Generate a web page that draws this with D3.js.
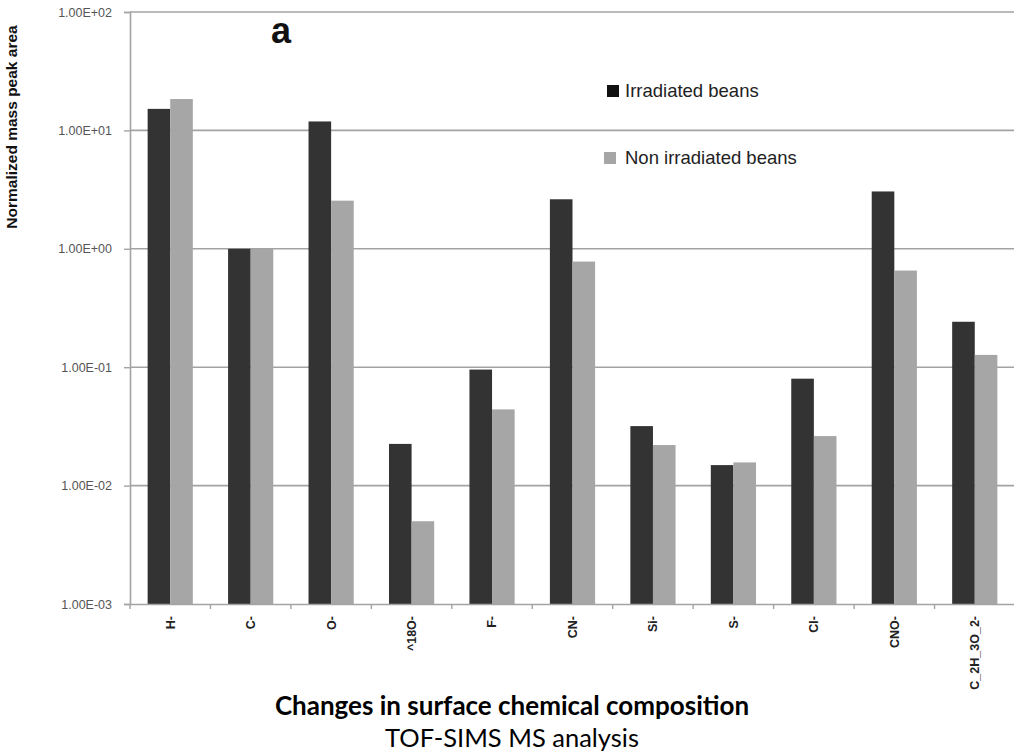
<!DOCTYPE html>
<html>
<head>
<meta charset="utf-8">
<script src="https://cdn.jsdelivr.net/npm/d3@7"></script>
<style>
  html, body { margin: 0; padding: 0; background: #ffffff; }
  svg { display: block; }
</style>
</head>
<body>
<svg id="chart" width="1014" height="754"></svg>
<script>
// Ions measured by TOF-SIMS (negative mode)
const ions = ["H-", "C-", "O-", "^18O-", "F-", "CN-", "Si-", "S-", "Cl-", "CNO-", "C_2H_3O_2-"];
// Normalized mass peak area per ion
const irradiated    = [15.2, 1.0, 11.9, 0.0225, 0.0955, 2.62, 0.0318, 0.0149, 0.080, 3.05, 0.242];
const nonIrradiated = [18.4, 1.0, 2.55, 0.0050, 0.0440, 0.78, 0.0220, 0.0157, 0.0262, 0.655, 0.127];
const seriesNames = ["Irradiated beans", "Non irradiated beans"];
const seriesColors = ["#333333", "#a6a6a6"];
const yTicks = [1e-3, 1e-2, 1e-1, 1e0, 1e1, 1e2];
const yTickLabels = ["1.00E-03", "1.00E-02", "1.00E-01", "1.00E+00", "1.00E+01", "1.00E+02"];

const svg = d3.select("#chart");
const plot = { left: 130, right: 1015, top: 12, bottom: 604 };

const x = d3.scaleBand().domain(ions).range([plot.left, plot.right]).padding(0);
const y = d3.scaleLog().domain([1e-3, 1e2]).range([plot.bottom, plot.top]);
const barW = 22.6;
const sub = d3.scaleOrdinal().domain([0, 1]).range([-barW, 0]);

// gridlines
svg.append("g")
  .selectAll("line")
  .data(yTicks.slice(1))
  .join("line")
  .attr("x1", plot.left).attr("x2", 1014)
  .attr("y1", d => y(d)).attr("y2", d => y(d))
  .attr("stroke", "#a3a3a3").attr("stroke-width", 1.6);

// bars
const rows = ions.map((ion, i) => ({ ion, vals: [irradiated[i], nonIrradiated[i]] }));
const groups = svg.append("g").selectAll("g")
  .data(rows).join("g")
  .attr("transform", d => `translate(${x(d.ion) + x.bandwidth() / 2},0)`);
groups.selectAll("rect")
  .data(d => d.vals.map((v, k) => ({ v, k })))
  .join("rect")
  .attr("x", d => sub(d.k))
  .attr("width", barW)
  .attr("y", d => y(d.v))
  .attr("height", d => plot.bottom - y(d.v))
  .attr("fill", d => seriesColors[d.k]);

// y axis
const yAxis = d3.axisLeft(y)
  .tickValues(yTicks)
  .tickFormat((d, i) => yTickLabels[i])
  .tickSizeOuter(0)
  .tickSize(6)
  .tickPadding(12);
const gy = svg.append("g").attr("transform", `translate(${plot.left},0)`).call(yAxis);
gy.select(".domain").attr("stroke", "#a3a3a3").attr("stroke-width", 1.6);
gy.selectAll(".tick line").attr("stroke", "#a3a3a3").attr("stroke-width", 1.4);
gy.selectAll(".tick text")
  .attr("fill", "#555555")
  .style("font-family", "'Liberation Sans', Arial, sans-serif")
  .style("font-size", "12.5px");

// x axis
const xAxis = d3.axisBottom(x).tickSize(0).tickSizeOuter(0).tickPadding(0);
const gx = svg.append("g").attr("transform", `translate(0,${plot.bottom})`).call(xAxis);
gx.select(".domain").attr("stroke", "#a3a3a3").attr("stroke-width", 1.6);
gx.selectAll(".tick text")
  .attr("transform", "rotate(-90)")
  .attr("text-anchor", "end")
  .attr("x", -12)
  .attr("y", 0)
  .attr("dy", "0.35em")
  .attr("fill", "#222222")
  .style("font-family", "'Liberation Sans', Arial, sans-serif")
  .style("font-weight", "bold")
  .style("font-size", "12.5px");
// category separator ticks
svg.append("g").selectAll("line")
  .data(ions)
  .join("line")
  .attr("x1", d => x(d)).attr("x2", d => x(d))
  .attr("y1", plot.bottom).attr("y2", plot.bottom + 5)
  .attr("stroke", "#a3a3a3").attr("stroke-width", 1.4);

// y axis title
svg.append("text")
  .attr("transform", "translate(17,127) rotate(-90)")
  .attr("text-anchor", "middle")
  .style("font-family", "'Liberation Sans', Arial, sans-serif")
  .style("font-weight", "bold")
  .style("font-size", "15.5px")
  .attr("fill", "#111111")
  .text("Normalized mass peak area");

// panel letter
svg.append("text")
  .attr("x", 281).attr("y", 43)
  .attr("text-anchor", "middle")
  .style("font-family", "'Liberation Sans', Arial, sans-serif")
  .style("font-weight", "bold")
  .style("font-size", "36px")
  .attr("fill", "#111111")
  .text("a");

// legend
const legendPos = [{ sx: 607, sy: 85, tx: 625, ty: 97 }, { sx: 604, sy: 152, tx: 625, ty: 164 }];
const lg = svg.append("g");
lg.selectAll("rect")
  .data(seriesNames)
  .join("rect")
  .attr("x", (d, i) => legendPos[i].sx)
  .attr("y", (d, i) => legendPos[i].sy)
  .attr("width", 12).attr("height", 12)
  .attr("fill", (d, i) => i === 0 ? "#111111" : seriesColors[1]);
lg.selectAll("text")
  .data(seriesNames)
  .join("text")
  .attr("x", (d, i) => legendPos[i].tx)
  .attr("y", (d, i) => legendPos[i].ty)
  .style("font-family", "'Liberation Sans', Arial, sans-serif")
  .style("font-size", "18.5px")
  .attr("fill", "#222222")
  .text(d => d);

// titles
svg.append("text")
  .attr("x", 512).attr("y", 715)
  .attr("text-anchor", "middle")
  .style("font-family", "Lato, sans-serif")
  .style("font-weight", "bold")
  .style("font-size", "26px")
  .attr("fill", "#000000")
  .text("Changes in surface chemical composition");
svg.append("text")
  .attr("x", 512).attr("y", 747)
  .attr("text-anchor", "middle")
  .style("font-family", "Lato, sans-serif")
  .style("font-size", "25.5px")
  .attr("fill", "#000000")
  .text("TOF-SIMS MS analysis");
</script>
</body>
</html>
